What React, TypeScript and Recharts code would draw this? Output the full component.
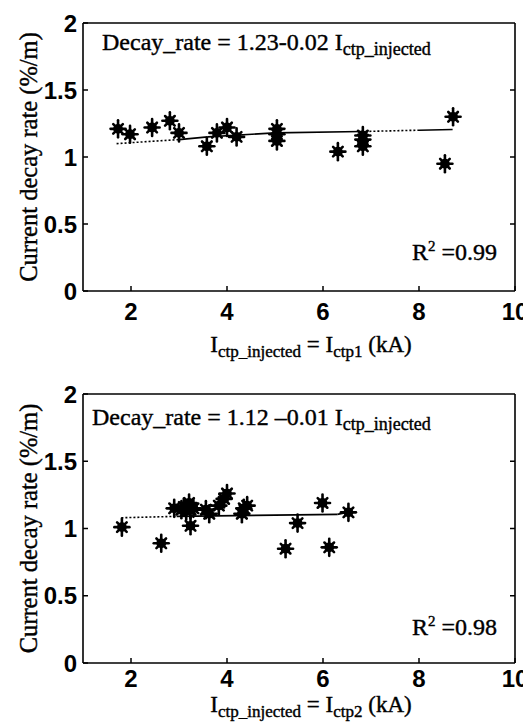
import React from 'react';
import { ScatterChart, Scatter, XAxis, YAxis, ReferenceArea } from 'recharts';

const SERIF = '"Liberation Serif", "Times New Roman", serif';
const SANS = '"Liberation Sans", Arial, sans-serif';

const xTicks = [2, 4, 6, 8, 10];
const yTicks = [0, 0.5, 1, 1.5, 2];

// Panel 1 (I_ctp1)
const topX = [1.73, 1.98, 2.44, 2.81, 3.0, 3.58, 3.79, 4.0, 4.2, 5.04, 5.04, 5.04, 6.31, 6.83, 6.83, 6.83, 8.54, 8.71];
const topY = [1.21, 1.17, 1.22, 1.27, 1.18, 1.08, 1.18, 1.22, 1.15, 1.21, 1.17, 1.12, 1.04, 1.16, 1.13, 1.08, 0.95, 1.3];
const topFitX = [1.7, 3.0, 3.6, 5.0, 6.8, 8.0, 8.7];
const topFitY = [1.1, 1.13, 1.15, 1.18, 1.19, 1.2, 1.205];
const topFitStyle = ['dot', 'solid', 'solid', 'solid', 'dot', 'solid'];

// Panel 2 (I_ctp2)
const botX = [1.81, 2.63, 2.9, 3.05, 3.1, 3.15, 3.21, 3.24, 3.24, 3.3, 3.56, 3.63, 3.83, 3.94, 4.0, 4.31, 4.35, 4.42, 5.22, 5.47, 5.99, 6.13, 6.53];
const botY = [1.01, 0.89, 1.15, 1.14, 1.16, 1.13, 1.19, 1.14, 1.02, 1.15, 1.14, 1.11, 1.17, 1.22, 1.26, 1.11, 1.15, 1.17, 0.85, 1.04, 1.19, 0.86, 1.12];
const botFitX = [1.8, 2.95, 6.3, 6.5];
const botFitY = [1.08, 1.09, 1.105, 1.12];
const botFitStyle = ['dot', 'solid', 'solid'];

const Star = (props: any) => {
  const { cx, cy } = props;
  if (cx == null || cy == null) return <g />;
  return (
    <g stroke="#000" strokeWidth={2.6} strokeLinecap="round">
      <line x1={cx} y1={cy - 8.5} x2={cx} y2={cy + 8.5} />
      <line x1={cx - 7.5} y1={cy} x2={cx + 7.5} y2={cy} />
      <line x1={cx - 4.8} y1={cy - 4.8} x2={cx + 4.8} y2={cy + 4.8} />
      <line x1={cx - 4.8} y1={cy + 4.8} x2={cx + 4.8} y2={cy - 4.8} />
      <circle cx={cx} cy={cy} r={3.6} fill="#000" />
    </g>
  );
};

const NoShape = () => <g />;

const BottomTick = (props: any) => {
  const { x, y, payload, base } = props;
  return (
    <g>
      <line x1={x} x2={x} y1={y} y2={y - 5} stroke="#000" strokeWidth={1.5} />
      <text x={x} y={y + base} textAnchor="middle" fontFamily={SANS} fontWeight="bold" fontSize={24} fill="#000">
        {payload.value}
      </text>
    </g>
  );
};

const TopTick = (props: any) => {
  const { x, y } = props;
  return <line x1={x} x2={x} y1={y} y2={y + 5} stroke="#000" strokeWidth={1.5} />;
};

const LeftTick = (props: any) => {
  const { x, y, payload } = props;
  return (
    <g>
      <line x1={x} x2={x + 5} y1={y} y2={y} stroke="#000" strokeWidth={1.5} />
      <text x={x - 6} y={y + 8.5} textAnchor="end" fontFamily={SANS} fontWeight="bold" fontSize={24} fill="#000">
        {payload.value}
      </text>
    </g>
  );
};

const RightTick = (props: any) => {
  const { x, y } = props;
  return <line x1={x} x2={x - 5} y1={y} y2={y} stroke="#000" strokeWidth={1.5} />;
};

type PanelProps = {
  height: number;
  marginBottom: number;
  ptsX: number[];
  ptsY: number[];
  fitX: number[];
  fitY: number[];
  fitStyle: string[];
  eqMain: string;
  eqDx: number;
  eqDy: number;
  r2: string;
  r2Dy: number;
  xSub: string;
  xLabelDy: number;
  tickBase: number;
};

function Panel(p: PanelProps) {
  const pts = p.ptsX.map((x, i) => ({ x, y: p.ptsY[i] }));
  const segs = p.fitStyle.map((s, i) => ({
    style: s,
    data: [
      { x: p.fitX[i], y: p.fitY[i] },
      { x: p.fitX[i + 1], y: p.fitY[i + 1] },
    ],
  }));
  const txt = { fontFamily: SERIF, fill: '#000', stroke: '#000', strokeWidth: 0.4 } as any;

  const plotLabel = (lp: any) => {
    const vb = lp.viewBox || {};
    const left = vb.x;
    const top = vb.y;
    const right = vb.x + vb.width;
    const bottom = vb.y + vb.height;
    return (
      <g>
        <text x={left + p.eqDx} y={top + p.eqDy} fontSize={24} {...txt}>
          {p.eqMain}
          <tspan fontSize={18} dy={5}>ctp_injected</tspan>
        </text>
        <text x={right - 18} y={bottom - p.r2Dy} fontSize={24} textAnchor="end" {...txt}>
          R<tspan fontSize={15} dy={-9}>2</tspan>
          <tspan dy={9}> =0.{p.r2}</tspan>
        </text>
      </g>
    );
  };

  const xLabel = (lp: any) => {
    const vb = lp.viewBox || {};
    const cx = vb.x + vb.width / 2;
    return (
      <text x={cx + 12} y={vb.y + p.xLabelDy} textAnchor="middle" fontSize={23} {...txt}>
        I<tspan fontSize={17} dy={5}>ctp_injected</tspan>
        <tspan dy={-5}> = I</tspan>
        <tspan fontSize={17} dy={5}>{p.xSub}</tspan>
        <tspan dy={-5}> (kA)</tspan>
      </text>
    );
  };

  const yLabel = (lp: any) => {
    const vb = lp.viewBox || {};
    const cx = 29;
    const cy = vb.y + vb.height / 2;
    return (
      <text x={cx} y={cy} transform={`rotate(-90, ${cx}, ${cy})`} textAnchor="middle" fontSize={24.5} {...txt}>
        Current decay rate (%/m)
      </text>
    );
  };

  return (
    <ScatterChart width={523} height={p.height} margin={{ top: 14, right: 15, bottom: p.marginBottom, left: 0 }}>
      <XAxis
        dataKey="x"
        type="number"
        domain={[1, 10]}
        ticks={xTicks}
        allowDataOverflow
        height={60}
        axisLine={{ stroke: '#000', strokeWidth: 1.6 }}
        tickLine={false}
        tickSize={0}
        tickMargin={0}
        tick={<BottomTick base={p.tickBase} />}
        interval={0}
        label={xLabel}
      />
      <YAxis
        dataKey="y"
        type="number"
        domain={[0, 2]}
        ticks={yTicks}
        allowDataOverflow
        width={75}
        axisLine={{ stroke: '#000', strokeWidth: 1.6 }}
        tickLine={false}
        tickSize={0}
        tickMargin={0}
        tick={<LeftTick />}
        interval={0}
        label={yLabel}
      />
      <XAxis
        xAxisId="t"
        orientation="top"
        type="number"
        domain={[1, 10]}
        ticks={[2, 4, 6, 8]}
        allowDataOverflow
        height={1}
        axisLine={{ stroke: '#000', strokeWidth: 1.6 }}
        tickLine={false}
        tickSize={0}
        tickMargin={0}
        tick={<TopTick />}
        interval={0}
      />
      <YAxis
        yAxisId="r"
        orientation="right"
        type="number"
        domain={[0, 2]}
        ticks={[0.5, 1, 1.5]}
        allowDataOverflow
        width={1}
        axisLine={{ stroke: '#000', strokeWidth: 1.6 }}
        tickLine={false}
        tickSize={0}
        tickMargin={0}
        tick={<RightTick />}
        interval={0}
      />
      <ReferenceArea x1={1} x2={10} y1={0} y2={2} fill="none" stroke="none" label={plotLabel} />
      {segs.map((s, i) => (
        <Scatter
          key={'f' + i}
          data={s.data}
          line={{ stroke: '#000', strokeWidth: 1.6, strokeDasharray: s.style === 'dot' ? '2 2' : undefined }}
          shape={NoShape}
          isAnimationActive={false}
        />
      ))}
      <Scatter data={pts} shape={Star} isAnimationActive={false} />
    </ScatterChart>
  );
}

export default function App() {
  return (
    <div style={{ width: 523 }}>
      <style>{'html, body { overflow: hidden; } svg, .recharts-wrapper, .recharts-surface { overflow: visible !important; }'}</style>
      <Panel
        height={371}
        marginBottom={28}
        ptsX={topX}
        ptsY={topY}
        fitX={topFitX}
        fitY={topFitY}
        fitStyle={topFitStyle}
        eqMain="Decay_rate = 1.23-0.02 I"
        eqDx={19}
        eqDy={27}
        r2="99"
        r2Dy={31}
        xSub="ctp1"
        xLabelDy={61}
        tickBase={29}
      />
      <Panel
        height={344}
        marginBottom={0}
        ptsX={botX}
        ptsY={botY}
        fitX={botFitX}
        fitY={botFitY}
        fitStyle={botFitStyle}
        eqMain="Decay_rate = 1.12 –0.01 I"
        eqDx={9}
        eqDy={31}
        r2="98"
        r2Dy={28}
        xSub="ctp2"
        xLabelDy={49}
        tickBase={24}
      />
    </div>
  );
}
